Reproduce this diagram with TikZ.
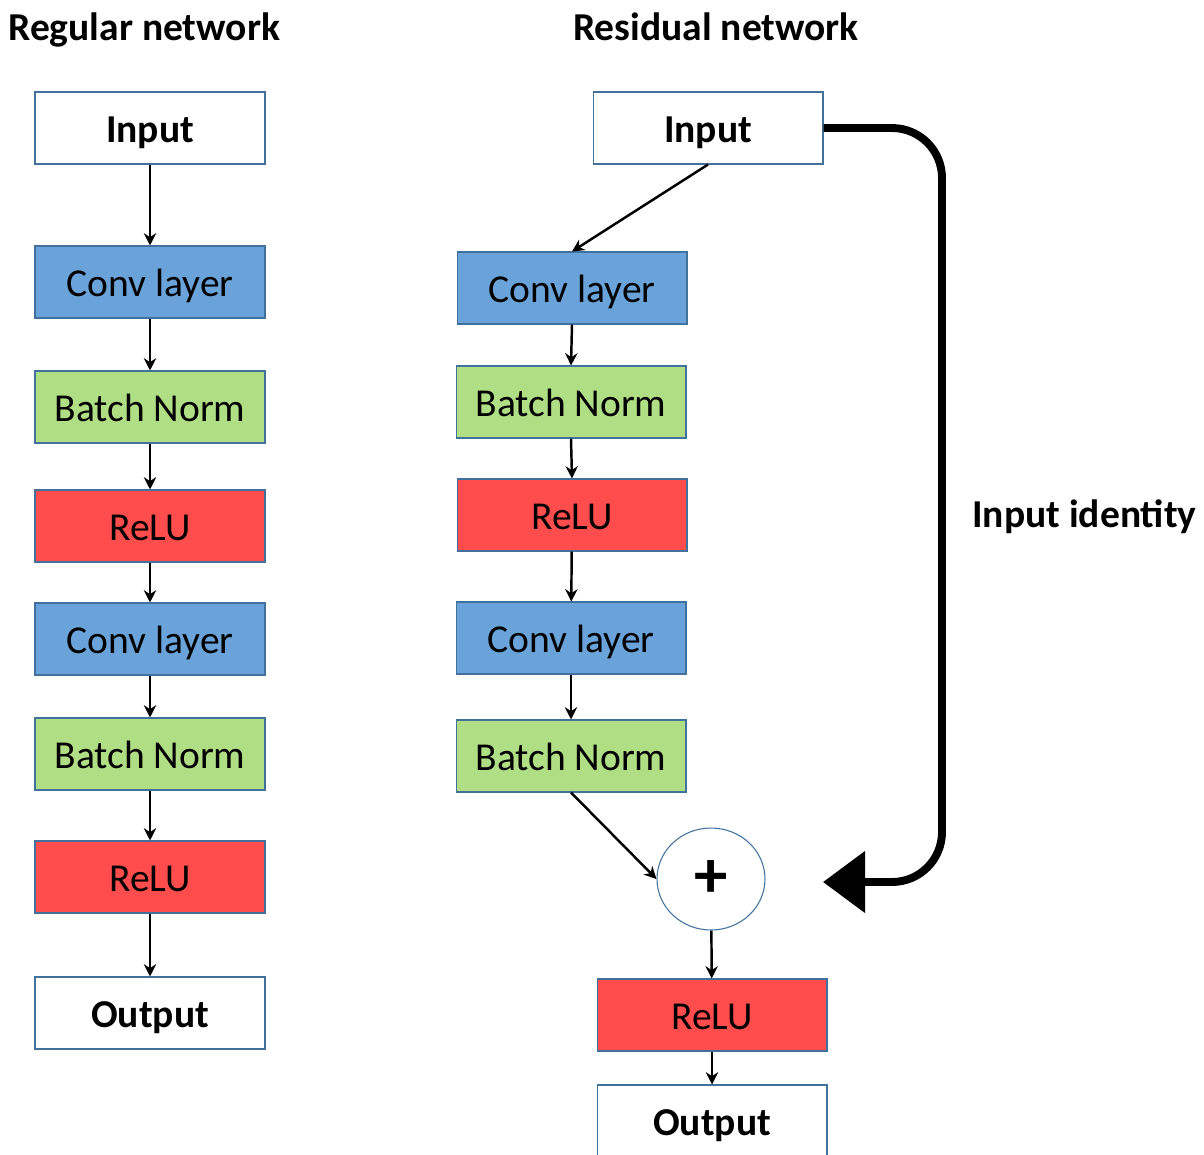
\documentclass[tikz,border=0pt]{standalone}
\usepackage{fontspec}
\setmainfont{Carlito}
\usetikzlibrary{arrows.meta,shapes.geometric}

\definecolor{convblue}{RGB}{106,163,217}
\definecolor{normgreen}{RGB}{176,222,132}
\definecolor{relured}{RGB}{255,76,76}
\definecolor{edgeblue}{RGB}{65,113,156}

\begin{document}
\begin{tikzpicture}[x=0.02cm, y=-0.02cm,
    layer/.style={draw=edgeblue, line width=0.6pt, minimum width=4.6cm, minimum height=1.44cm,
      inner sep=0pt, text height=16pt, text depth=0pt, font=\fontsize{22.5}{26}\selectfont},
    io/.style={layer, fill=white, font=\fontsize{22.5}{26}\selectfont\bfseries},
    conv/.style={layer, fill=convblue},
    bnorm/.style={layer, fill=normgreen},
    relu/.style={layer, fill=relured},
    title/.style={font=\fontsize{22.5}{26}\selectfont\bfseries, inner sep=0pt},
    flow/.style={-{Stealth[length=7pt, width=7pt]}, line width=1.4pt},
    skip/.style={-{Triangle[length=0.84cm, width=1.2cm]}, line width=4.5pt, rounded corners=1cm}]
    \useasboundingbox (0,0) rectangle (1204,1154) ;
    \clip (0,0) rectangle (1204,1154) ;

    % regular network
    \node [title, anchor=base west] (regtitle) at (8,40) {Regular network} ;
    \node [io]    (rin)  at (150,128)  {Input} ;
    \node [conv]  (rc1)  at (150,282)  {Conv layer} ;
    \node [bnorm] (rb1)  at (150,407)  {Batch Norm} ;
    \node [relu]  (rr1)  at (150,526)  {ReLU} ;
    \node [conv]  (rc2)  at (150,639)  {Conv layer} ;
    \node [bnorm] (rb2)  at (150,754)  {Batch Norm} ;
    \node [relu]  (rr2)  at (150,877)  {ReLU} ;
    \node [io]    (rout) at (150,1013) {Output} ;
    \draw [flow] (rin) -- (rc1) ;
    \draw [flow] (rc1) -- (rb1) ;
    \draw [flow] (rb1) -- (rr1) ;
    \draw [flow] (rr1) -- (rc2) ;
    \draw [flow] (rc2) -- (rb2) ;
    \draw [flow] (rb2) -- (rr2) ;
    \draw [flow] (rr2) -- (rout) ;

    % residual network
    \node [title, anchor=base] (restitle) at (716,40) {Residual network} ;
    \node [io]    (sin)  at (708,128)  {Input} ;
    \node [conv]  (sc1)  at (572,288)  {Conv layer} ;
    \node [bnorm] (sb1)  at (571,402)  {Batch Norm} ;
    \node [relu]  (sr1)  at (572,515)  {ReLU} ;
    \node [conv]  (sc2)  at (571,638)  {Conv layer} ;
    \node [bnorm] (sb2)  at (571,756)  {Batch Norm} ;
    \node [ellipse, draw=edgeblue, line width=0.6pt, minimum width=2.16cm, minimum height=2.04cm,
      inner sep=0pt, font=\fontsize{38}{40}\selectfont\bfseries] (add) at (711,879) {+} ;
    \node [relu]  (sr2)  at (712,1015) {ReLU} ;
    \node [io]    (sout) at (712,1121) {Output} ;
    \draw [flow] (sin.south) -- (sc1.north) ;
    \draw [flow] (sc1.south) -- (sb1.north) ;
    \draw [flow] (sb1.south) -- (sr1.north) ;
    \draw [flow] (sr1) -- (sc2) ;
    \draw [flow] (sc2) -- (sb2) ;
    \draw [flow] (sb2.south) -- (add.west) ;
    \draw [flow] (add) -- (sr2) ;
    \draw [flow] (sr2) -- (sout) ;

    % identity shortcut
    \coordinate (tip) at (823,882) ;
    \draw [skip] (sin.east) -| (942,882) -- (tip) ;
    \node [title, anchor=base west] (idlabel) at (972,527) {Input identity} ;
\end{tikzpicture}
\end{document}
